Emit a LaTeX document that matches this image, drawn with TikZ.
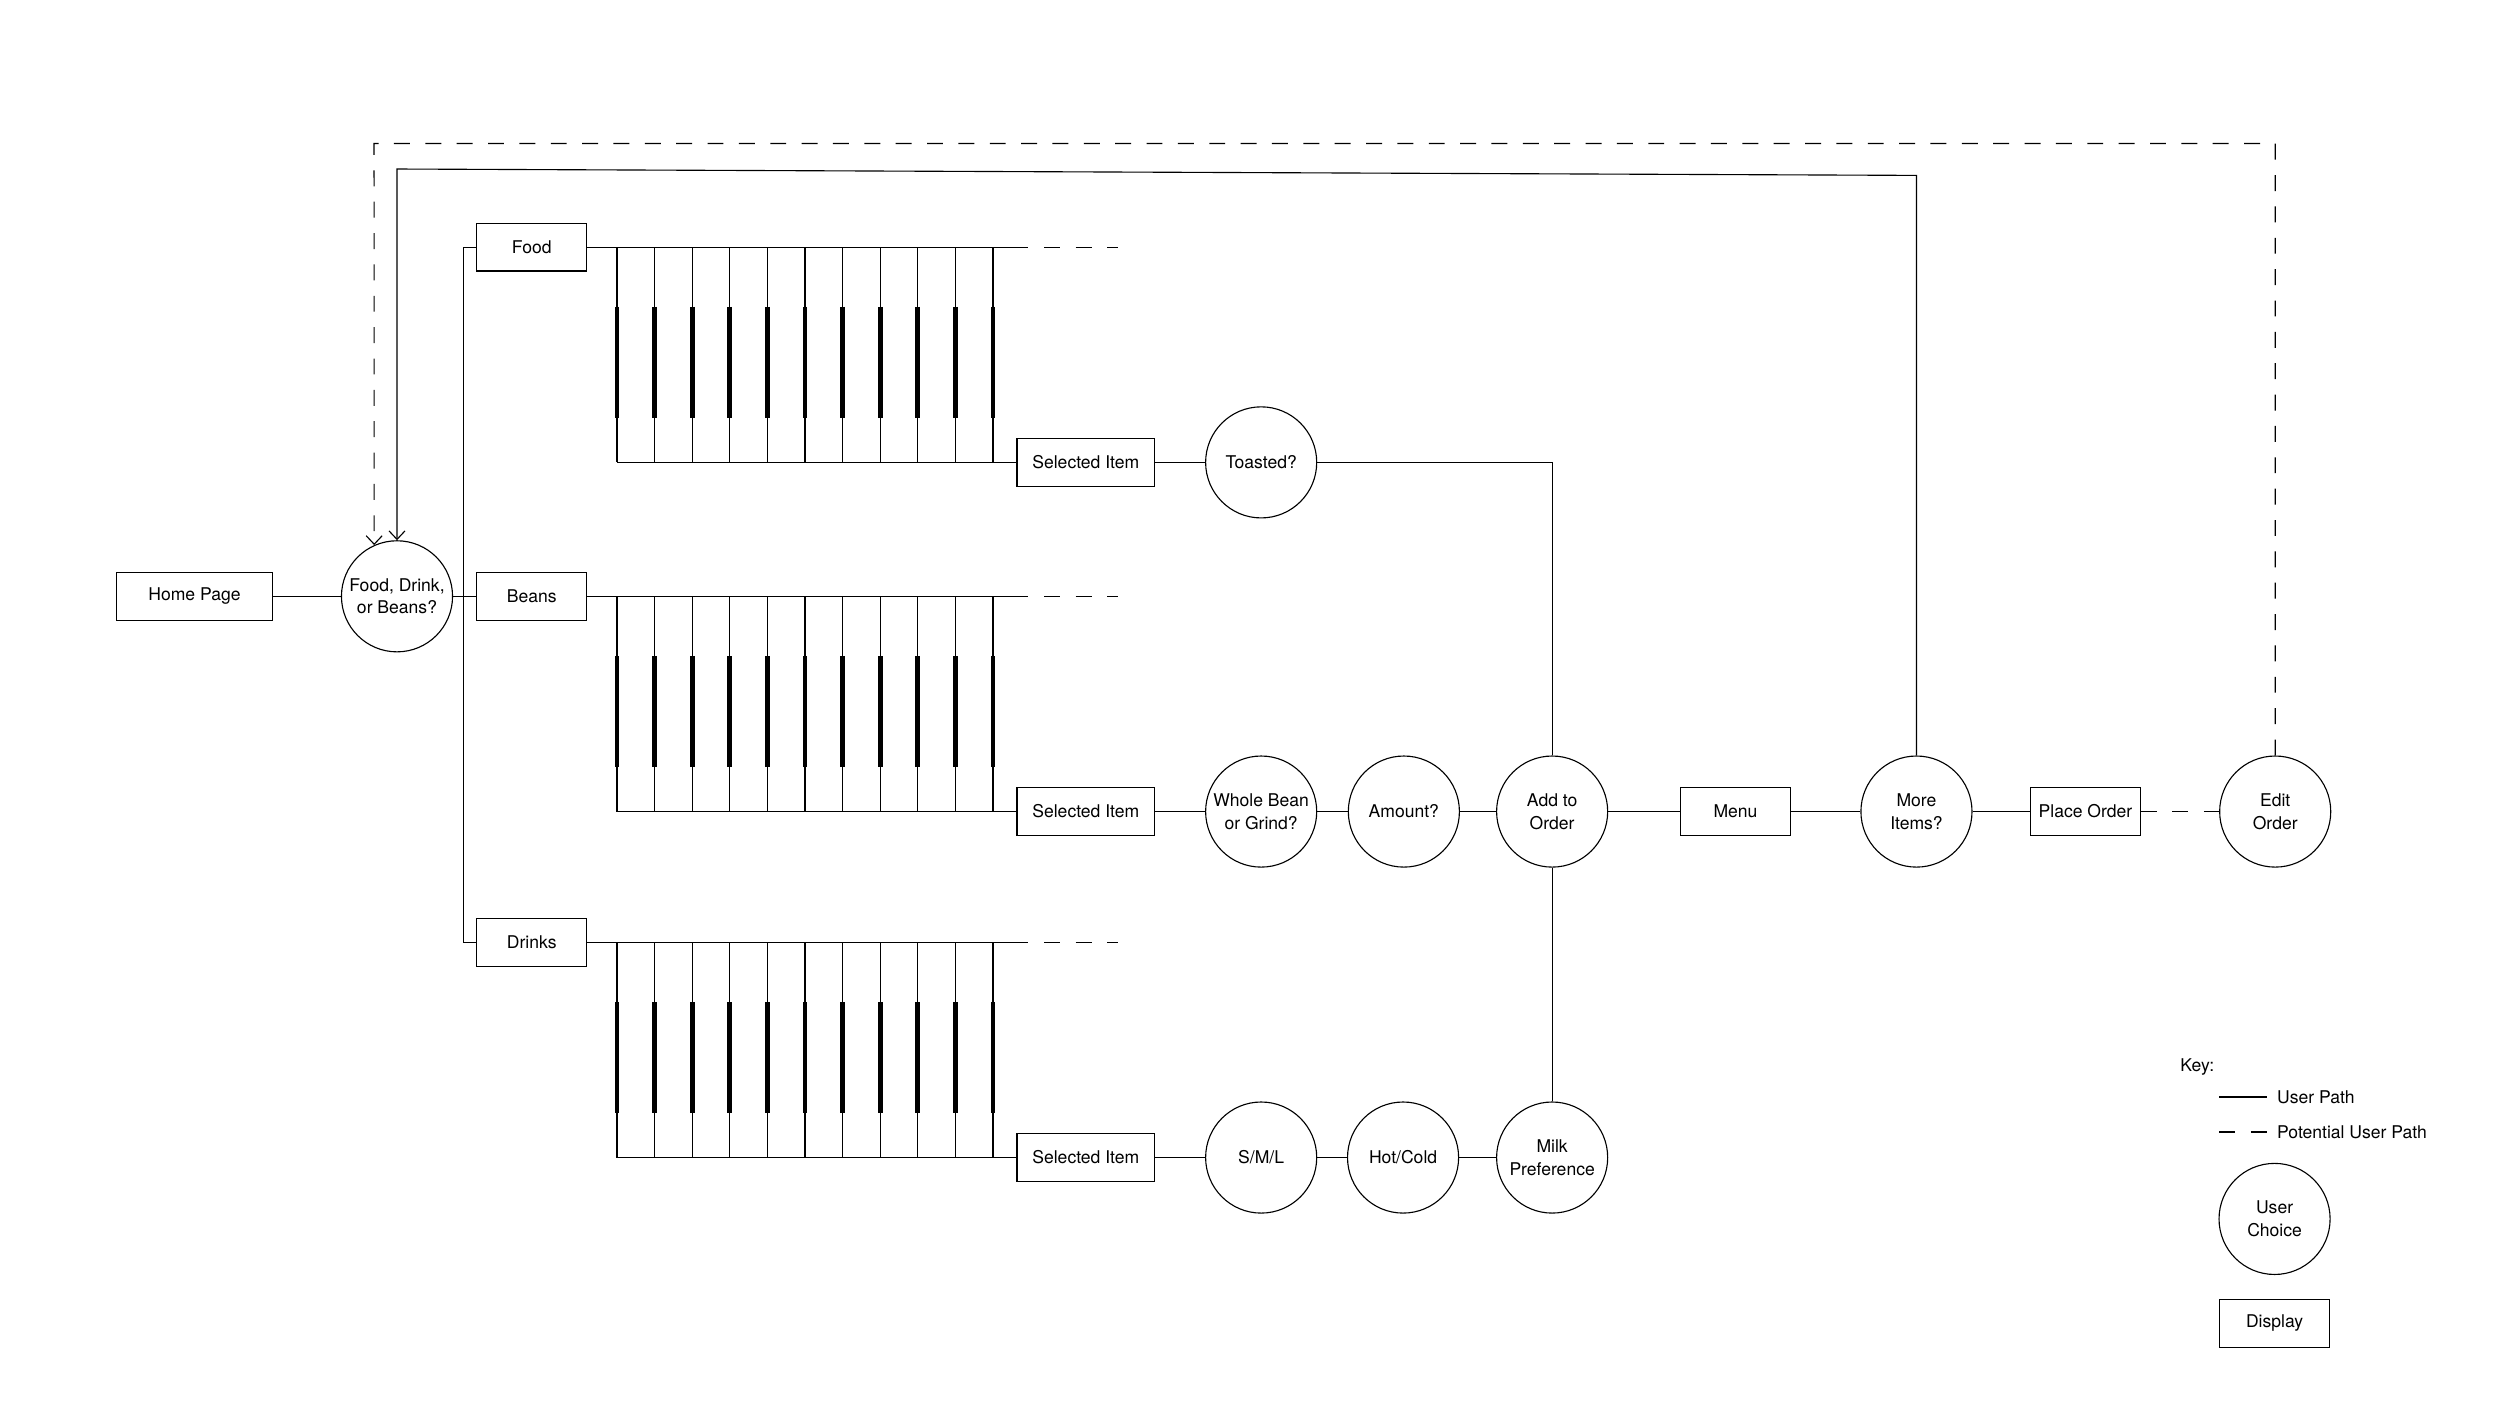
\documentclass[tikz,border=0pt]{standalone}
\usepackage{fontspec}
\setmainfont{TeX Gyre Heros}
\usetikzlibrary{arrows.meta,
positioning,
calc}

\begin{document}
\begin{tikzpicture}[
    x=0.03cm,
    y=-0.03cm,
    font=\fontsize{9.4}{12}\selectfont,
    line width=0.6pt,
    display/.style={
        draw,
        minimum width=2.07cm,
        minimum height=0.9cm,
        inner sep=1pt,
        align=center,
        fill=white
    },
    wideDisplay/.style={
        display,
        minimum width=2.59cm
    },
    choice/.style={
        draw,
        circle,
        minimum size=2.09cm,
        inner sep=0pt,
        align=center,
        fill=white
    },
    potential/.style={
        dash pattern=on 0.3cm off 0.29cm
    },
    loopBack/.style={
        -{Straight Barb[length=1.6mm,width=3mm]}
    },
    listItem/.style={
        line width=2.5pt
    },
    keyLabel/.style={
        anchor=west,
        inner sep=1pt
    }
]

\useasboundingbox (0,0) rectangle (1568,882);

%------------------------------------------------------------------------------
% Entry and category choice
%------------------------------------------------------------------------------

\node[display, minimum width=2.94cm] (home) at (122,374) {Home Page};

\node[choice] (category) at (249,374) {Food, Drink,\\or Beans?};

\node[display] (food)   at (333.5,155) {Food};
\node[display] (beans)  at (333.5,374) {Beans};
\node[display] (drinks) at (333.5,591) {Drinks};

%------------------------------------------------------------------------------
% Selected items and options
%------------------------------------------------------------------------------

\node[wideDisplay] (foodItem)  at (681,290) {Selected Item};
\node[wideDisplay] (beanItem)  at (681,509) {Selected Item};
\node[wideDisplay] (drinkItem) at (681,726) {Selected Item};

\node[choice] (toasted)  at (791,290)   {Toasted?};
\node[choice] (grind)    at (791,509)   {Whole Bean\\or Grind?};
\node[choice] (amount)   at (880.5,509) {Amount?};
\node[choice] (addOrder) at (973.5,509) {Add to\\Order};
\node[choice] (size)     at (791,726)   {S/M/L};
\node[choice] (temp)     at (880,726)   {Hot/Cold};
\node[choice] (milk)     at (973.5,726) {Milk\\Preference};

%------------------------------------------------------------------------------
% Checkout
%------------------------------------------------------------------------------

\node[display] (menu)  at (1088.5,509) {Menu};
\node[choice]  (more)  at (1202,509)   {More\\Items?};
\node[display] (place) at (1308,509)   {Place Order};
\node[choice]  (edit)  at (1427,509)   {Edit\\Order};

%------------------------------------------------------------------------------
% Item lists
%------------------------------------------------------------------------------

\draw (food.west) -- ++(-8,0) |- (drinks.west);

\foreach \cat/\sel/\y in {food/foodItem/155, beans/beanItem/374, drinks/drinkItem/591} {
    \draw (\cat.east) -- (645,\y);
    \draw[potential] (655,\y) -- (701,\y);
    \foreach \i in {0,...,10} {
        \draw ({387+23.58*\i},\y) -- ({387+23.58*\i},{\y+135});
        \draw[listItem] ({387+23.58*\i},{\y+37.5}) -- ({387+23.58*\i},{\y+107});
    }
    \draw (387,{\y+135}) -- (\sel.west);
}

%------------------------------------------------------------------------------
% User paths
%------------------------------------------------------------------------------

\draw (home) -- (category);
\draw (category) -- (beans);

\draw (foodItem) -- (toasted);
\draw (toasted) -| (addOrder);

\draw (beanItem) -- (grind) -- (amount) -- (addOrder);
\draw (drinkItem) -- (size) -- (temp) -- (milk);
\draw (milk) -- (addOrder);

\draw (addOrder) -- (menu) -- (more) -- (place);
\draw[potential] (place) -- (edit);

\draw[loopBack]
    (more.north) -- (1202,110) -- (249,106) -- (category.north);

\draw[potential, loopBack]
    (edit.north) -- (1427,90) -- (234.6,90) -- (category.114.5);

%------------------------------------------------------------------------------
% Key
%------------------------------------------------------------------------------

\node[keyLabel] (keyTitle) at (1366,669) {Key:};

\coordinate (solidStart) at (1392,688);
\coordinate (solidEnd)   at (1422,688);
\draw (solidStart) -- (solidEnd);
\node[keyLabel, right=4pt of solidEnd] (solidLabel) {User Path};

\coordinate (dashStart) at (1392,710);
\coordinate (dashEnd)   at (1422,710);
\draw[potential] (dashStart) -- (dashEnd);
\node[keyLabel, right=4pt of dashEnd] (dashLabel) {Potential User Path};

\node[choice]  (keyChoice)  at (1426.6,764.5) {User\\Choice};
\node[display] (keyDisplay) at (1426.6,830)   {Display};

\end{tikzpicture}
\end{document}
